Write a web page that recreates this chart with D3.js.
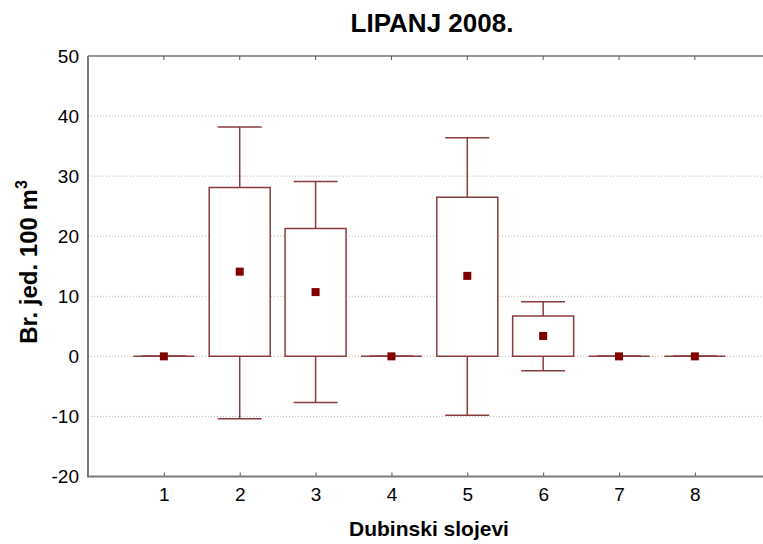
<!DOCTYPE html>
<html>
<head>
<meta charset="utf-8">
<script src="https://cdn.jsdelivr.net/npm/d3@7"></script>
<style>
  html, body { margin: 0; padding: 0; background: #fff; }
  svg { display: block; }
  text { font-family: "Liberation Sans", Arial, sans-serif; }
</style>
</head>
<body>
<svg id="chart" width="763" height="544"></svg>
<script>
const title = "LIPANJ 2008.";
const xTitle = "Dubinski slojevi";
const yTitle = "Br. jed. 100 m";
const categories = ["1", "2", "3", "4", "5", "6", "7", "8"];
const means       = [0, 14.1, 10.7, 0, 13.4, 3.4, 0, 0];
const boxLow      = [0, 0, 0, 0, 0, 0, 0, 0];
const boxHigh     = [0, 28.1, 21.3, 0, 26.5, 6.7, 0, 0];
const whiskerLow  = [0, -10.4, -7.7, 0, -9.8, -2.4, 0, 0];
const whiskerHigh = [0, 38.2, 29.1, 0, 36.4, 9.1, 0, 0];
const yTicks = [-20, -10, 0, 10, 20, 30, 40, 50];

(function () {
const svg = d3.select("#chart");
const padL = 88, padT = 56, padB = 476.5, step = 75.86;
const x = d3.scaleLinear().domain([0, categories.length + 1]).range([padL, padL + step * (categories.length + 1)]);
const y = d3.scaleLinear().domain([-20, 50]).range([padB, padT]);

const boxColor = "#8a3c3c";
const markColor = "#800000";
const font = "Liberation Sans, Arial, sans-serif";

svg.append("g").selectAll("line").data(yTicks.filter(t => t > -20 && t < 50)).join("line")
  .attr("x1", padL).attr("x2", 763)
  .attr("y1", d => y(d)).attr("y2", d => y(d))
  .attr("stroke", "#b8b8b8").attr("stroke-width", 1).attr("stroke-dasharray", "1,2");

svg.append("line").attr("x1", padL).attr("x2", 763).attr("y1", padT).attr("y2", padT)
  .attr("stroke", "#333").attr("stroke-width", 1);

const xAxis = d3.axisBottom(x).tickValues(d3.range(1, categories.length + 1))
  .tickFormat(d => categories[d - 1]).tickSize(-4).tickPadding(11);
const gx = svg.append("g").attr("transform", `translate(0,${padB})`).call(xAxis);
gx.select(".domain").remove();
gx.selectAll(".tick line").attr("stroke", "#555");
gx.selectAll(".tick text").attr("font-size", 19).attr("fill", "#000").attr("font-family", font);
svg.append("line").attr("x1", padL).attr("x2", 763).attr("y1", padB).attr("y2", padB)
  .attr("stroke", "#7a7a7a").attr("stroke-width", 2);

svg.append("g").selectAll("line").data(d3.range(1, categories.length + 1)).join("line")
  .attr("x1", d => x(d)).attr("x2", d => x(d)).attr("y1", padT).attr("y2", padT + 4)
  .attr("stroke", "#555");

const yAxis = d3.axisLeft(y).tickValues(yTicks).tickFormat(d => String(d)).tickSize(0).tickPadding(9);
const gy = svg.append("g").attr("transform", `translate(${padL},0)`).call(yAxis);
gy.select(".domain").remove();
gy.selectAll(".tick text").attr("font-size", 19).attr("fill", "#000").attr("font-family", font);
svg.append("line").attr("x1", padL).attr("x2", padL).attr("y1", padT).attr("y2", padB + 1)
  .attr("stroke", "#7a7a7a").attr("stroke-width", 2);

const idx = d3.range(categories.length);
const boxW = 61, capW = 44, mk = 8;
const g = svg.append("g");
g.selectAll(".wh").data(idx).join("line").attr("class", "wh")
  .attr("x1", i => x(i + 1)).attr("x2", i => x(i + 1))
  .attr("y1", i => y(whiskerHigh[i])).attr("y2", i => y(boxHigh[i]))
  .attr("stroke", boxColor).attr("stroke-width", 1.5);
g.selectAll(".wl").data(idx).join("line").attr("class", "wl")
  .attr("x1", i => x(i + 1)).attr("x2", i => x(i + 1))
  .attr("y1", i => y(whiskerLow[i])).attr("y2", i => y(boxLow[i]))
  .attr("stroke", boxColor).attr("stroke-width", 1.5);
g.selectAll(".ch").data(idx).join("line").attr("class", "ch")
  .attr("x1", i => x(i + 1) - capW / 2).attr("x2", i => x(i + 1) + capW / 2)
  .attr("y1", i => y(whiskerHigh[i])).attr("y2", i => y(whiskerHigh[i]))
  .attr("stroke", boxColor).attr("stroke-width", 1.5);
g.selectAll(".cl").data(idx).join("line").attr("class", "cl")
  .attr("x1", i => x(i + 1) - capW / 2).attr("x2", i => x(i + 1) + capW / 2)
  .attr("y1", i => y(whiskerLow[i])).attr("y2", i => y(whiskerLow[i]))
  .attr("stroke", boxColor).attr("stroke-width", 1.5);
g.selectAll(".bx").data(idx).join("path").attr("class", "bx")
  .attr("d", i => {
    const x0 = x(i + 1) - boxW / 2, x1 = x(i + 1) + boxW / 2;
    const y0 = y(boxHigh[i]), y1 = y(boxLow[i]);
    return `M${x0},${y0}H${x1}V${y1}H${x0}Z`;
  })
  .attr("fill", "#fff").attr("stroke", boxColor).attr("stroke-width", 1.5);
g.selectAll(".mk").data(idx).join("rect").attr("class", "mk")
  .attr("x", i => x(i + 1) - mk / 2).attr("y", i => y(means[i]) - mk / 2)
  .attr("width", mk).attr("height", mk).attr("fill", markColor);

svg.append("text").attr("x", 432).attr("y", 32).attr("text-anchor", "middle")
  .attr("font-size", 26).attr("font-weight", "bold").text(title);
svg.append("text").attr("x", 429).attr("y", 536).attr("text-anchor", "middle")
  .attr("font-size", 21).attr("font-weight", "bold").text(xTitle);
const yt = svg.append("text").attr("transform", "translate(37,262) rotate(-90)")
  .attr("text-anchor", "middle").attr("font-size", 24).attr("font-weight", "bold");
yt.append("tspan").text(yTitle);
yt.append("tspan").attr("dy", -10).attr("font-size", 16).text("3");
})();
</script>
</body>
</html>
